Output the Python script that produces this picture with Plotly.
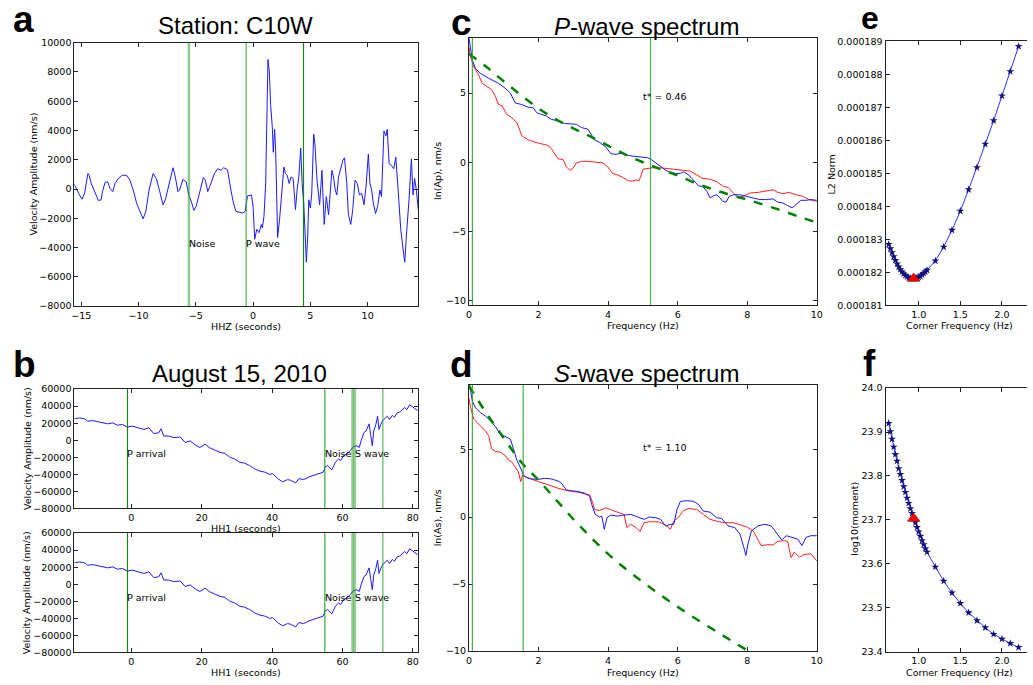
import plotly.graph_objects as go

# ---------------- data ----------------
# panel a : HHZ trace (seconds, nm/s)
a_t = [-15.64, -15.46, -15.23, -14.94, -14.71, -14.42, -14.31, -14.13, -13.79, -13.50,
       -13.27, -13.15, -12.92, -12.69, -12.49, -12.25, -12.05, -11.76, -11.42, -11.04,
       -10.75, -10.46, -10.17, -9.88, -9.60, -9.36, -9.08, -8.73, -8.44, -8.15,
       -7.86, -7.66, -7.37, -6.99, -6.79, -6.56, -6.42, -6.13, -5.84, -5.61,
       -5.35, -5.17, -4.97, -4.68, -4.34, -4.16, -3.96, -3.73, -3.38, -3.09,
       -2.80, -2.57, -2.23, -1.94, -1.71, -1.50, -1.21, -0.92, -0.69, -0.58,
       -0.49, -0.14, 0.00, 0.14, 0.32, 0.52, 0.72, 0.81, 0.95, 1.10,
       1.24, 1.30, 1.42, 1.53, 1.68, 1.76, 1.88, 1.97, 2.05, 2.14,
       2.31, 2.49, 2.69, 2.83, 2.98, 3.15, 3.32, 3.50, 3.70, 3.84,
       3.99, 4.16, 4.28, 4.42, 4.54, 4.65, 4.77, 4.86, 5.00, 5.12,
       5.29, 5.40, 5.58, 5.72, 5.81, 6.01, 6.10, 6.21, 6.39, 6.59,
       6.88, 7.02, 7.17, 7.31, 7.46, 7.66, 7.83, 7.98, 8.18, 8.32,
       8.53, 8.70, 8.90, 9.10, 9.28, 9.48, 9.68, 9.86, 10.06, 10.20,
       10.35, 10.49, 10.69, 10.87, 11.07, 11.21, 11.42, 11.59, 11.71, 11.88,
       12.08, 12.28, 12.46, 12.66, 12.89, 13.09, 13.24, 13.38, 13.53, 13.61,
       13.82, 13.96, 14.10, 14.25, 14.42]
a_v = [381, 45, -291, -695, -291, 1054, 942, 381, -291, -785,
       -740, -179, 448, 493, 45, -179, 381, 717, 942, 942,
       605, -67, -964, -1525, -2040, -1525, -67, 1054, 717, -179,
       -1076, -740, 269, 1457, 830, -179, -67, 650, 493, -404,
       -964, -1457, -1188, -179, 785, 605, -179, 269, 1054, 1390,
       1278, 1457, 1323, -67, -964, -1525, -1592, -1637, -1525, -964,
       -471, -404, -1188, -3430, -2758, -2982, -2421, -2646, -1861, 381,
       5762, 8856, 8004, 5762, 4193, 2511, 4080, 2623, -67, -3318,
       -2085, -67, 1502, 1054, 942, 381, 830, 717, -1412, -67,
       830, 2803, 381, -964, -3206, -5000, -3206, -740, -1300, -291,
       3744, 3072, 605, -740, -1076, 1278, -67, -2421, -516, -1749,
       1278, 830, -67, -404, 830, 1502, 1950, 2130, 381, -1749,
       -2421, -1412, 605, 381, -404, -291, -1076, 157, 2399, 381,
       -67, -964, -1681, -1188, -67, -516, 3968, 3632, 4080, 1726,
       1614, 1390, 2175, -67, -2758, -4103, -5000, -3206, -964, -740,
       2063, -404, 717, -67, -1412]
a_marks = [-5.6, -0.6, 4.4]
a_labels = [("Noise", -5.6, -3700), ("P wave", -0.6, -3700)]

# panel b : HH1 trace (both sub-panels)
b_t = [-16.2, -14.7, -13.3, -12.4, -11.0, -9.1, -6.75, -5.35, -3.94, -2.54,
       -1.13, 0.28, 1.69, 3.57, 4.98, 6.39, 7.8, 8.46, 9.2, 10.6,
       12.0, 13.9, 15.3, 16.7, 18.1, 19.5, 20.95, 22.4, 23.8, 25.2,
       26.6, 28.0, 29.4, 30.8, 32.2, 33.6, 35.0, 36.5, 37.9, 39.3,
       40.2, 41.6, 43.0, 44.4, 45.3, 46.7, 47.6, 49.0, 50.4, 51.8,
       53.2, 54.6, 55.0, 55.8, 57.0, 58.0, 58.9, 59.5, 60.3, 61.2,
       62.2, 63.1, 64.1, 64.8, 65.3, 66.1, 66.7, 67.2, 67.6, 68.0,
       68.5, 68.9, 69.5, 70.0, 70.4, 70.9, 71.5, 72.2, 72.8, 73.4,
       74.2, 74.8, 75.5, 76.3, 77.0, 77.7, 78.3, 79.1, 79.8, 80.5,
       81.4]
b_v = [25000, 26190, 25000, 22300, 23080, 21540, 19230, 20380, 17690, 18460,
       15380, 16540, 14620, 12690, 14620, 7690, 8850, 13460, 5000, 5000,
       3080, 3850, -2690, -770, -5380, -8460, -4620, -9230, -11540, -14230,
       -15380, -20000, -21920, -25770, -26920, -29620, -33460, -36150, -37310, -40000,
       -39230, -45000, -48850, -46150, -46920, -50000, -45000, -46150, -43080, -41150,
       -39230, -37310, -31540, -29620, -34620, -25770, -21920, -23850, -18080, -16150,
       -12310, -7690, -6540, -8460, -770, 8850, 10770, 16540, 19230, 6920,
       -6540, 10770, 18460, 28080, 12690, 18460, 23080, 26150, 28080, 24230,
       29230, 26920, 31920, 33080, 35770, 38460, 35770, 41540, 39620, 36920,
       34620]
b_marks = [-1.1, 55.0, 62.9, 63.5, 71.5]
b_labels = [("P arrival", -1.1, -15000), ("Noise", 55.0, -15000), ("S wave", 63.5, -15000)]

# panel c : P-wave spectrum
c_blue_f = [0, 0.05, 0.1, 0.19, 0.33, 0.57, 0.85, 1.04, 1.19, 1.33,
            1.52, 1.71, 1.85, 1.95, 2.09, 2.23, 2.37, 2.56, 2.75, 2.94,
            3.09, 3.23, 3.42, 3.51, 3.61, 3.75, 3.94, 4.08, 4.23, 4.37,
            4.56, 4.75, 4.94, 5.13, 5.22, 5.37, 5.51, 5.65, 5.79, 5.94,
            6.08, 6.17, 6.32, 6.46, 6.60, 6.72, 6.84, 6.93, 7.03, 7.12,
            7.22, 7.29, 7.39, 7.48, 7.60, 7.79, 7.98, 8.17, 8.36, 8.55,
            8.74, 8.88, 9.02, 9.16, 9.29, 9.40, 9.54, 9.69, 9.83, 10.0]
c_blue = [9.03, 8.2, 7.37, 6.78, 6.42, 6.07, 5.71, 5.36, 5.0, 4.29,
          4.17, 3.98, 3.93, 3.58, 3.46, 3.34, 3.10, 2.99, 2.80, 2.75,
          2.75, 2.51, 2.39, 2.04, 1.61, 1.45, 1.09, 0.62, 0.57, 0.66,
          0.50, 0.43, 0.38, 0.33, 0.24, -0.05, -0.33, -0.57, -0.73, -0.81,
          -0.81, -0.69, -0.92, -1.28, -1.71, -1.75, -2.11, -2.58, -2.42, -2.35,
          -2.58, -2.82, -2.89, -2.46, -2.35, -2.35, -2.46, -2.58, -2.70, -2.70,
          -2.65, -2.89, -2.94, -3.13, -3.29, -3.06, -2.75, -2.75, -2.70, -2.75]
c_red_f = [0, 0.05, 0.14, 0.28, 0.38, 0.52, 0.66, 0.76, 0.85, 0.95,
           1.09, 1.23, 1.38, 1.52, 1.71, 1.90, 2.09, 2.28, 2.37, 2.47,
           2.56, 2.71, 2.80, 2.90, 2.99, 3.09, 3.23, 3.42, 3.61, 3.85,
           3.99, 4.13, 4.27, 4.42, 4.56, 4.70, 4.80, 4.89, 5.01, 5.13,
           5.27, 5.51, 5.70, 5.89, 6.17, 6.36, 6.55, 6.70, 6.93, 7.12,
           7.31, 7.45, 7.60, 7.74, 7.88, 8.07, 8.31, 8.50, 8.74, 8.88,
           9.02, 9.21, 9.40, 9.59, 9.78, 10.0]
c_red = [8.32, 7.61, 6.90, 6.30, 5.71, 5.47, 5.24, 4.76, 4.17, 4.10,
         3.46, 3.22, 2.87, 1.92, 1.61, 1.45, 1.33, 1.21, 0.97, 0.62,
         0.26, 0.19, -0.33, -0.57, -0.45, -0.05, 0.07, 0.07, 0.0, -0.05,
         -0.33, -0.81, -0.92, -1.09, -1.33, -1.37, -1.28, -1.35, -0.50, -0.45,
         -0.40, -0.40, -0.45, -0.52, -0.62, -0.64, -0.92, -1.16, -1.23, -1.40,
         -1.75, -1.82, -2.23, -2.54, -2.46, -2.23, -2.18, -2.11, -1.99, -2.18,
         -2.27, -2.18, -2.35, -2.46, -2.70, -2.82]
c_fit_f = [0, 0.5, 1.0, 1.5, 2.0, 2.5, 3.0, 3.5, 4.0, 4.5, 5.0,
           5.5, 6.0, 6.5, 7.0, 7.5, 8.0, 8.5, 9.0, 9.5, 10.0]
c_fit = [7.85, 6.9, 5.85, 4.85, 3.9, 3.1, 2.45, 1.85, 1.2, 0.55, 0.0,
         -0.5, -0.95, -1.5, -1.95, -2.35, -2.7, -3.1, -3.5, -3.95, -4.36]
c_marks = [0.1, 5.22]
c_note = ("t* = 0.46", 5.0, 4.72)

# panel d : S-wave spectrum
d_blue_f = [0, 0.05, 0.1, 0.19, 0.33, 0.47, 0.62, 0.76, 0.90, 1.04,
            1.19, 1.28, 1.38, 1.47, 1.57, 1.66, 1.80, 2.0, 2.18, 2.37,
            2.56, 2.66, 2.80, 2.94, 3.13, 3.32, 3.47, 3.53, 3.63, 3.75,
            3.82, 3.89, 3.97, 4.08, 4.27, 4.46, 4.65, 4.84, 5.03, 5.18,
            5.37, 5.51, 5.65, 5.79, 5.89, 5.98, 6.08, 6.27, 6.46, 6.60,
            6.74, 6.93, 7.12, 7.26, 7.45, 7.64, 7.79, 7.90, 7.96, 8.02,
            8.12, 8.31, 8.50, 8.69, 8.88, 8.99, 9.12, 9.31, 9.45, 9.57,
            9.69, 9.83, 10.0]
d_blue = [9.86, 9.37, 8.64, 8.15, 7.78, 7.54, 7.17, 6.75, 6.19, 6.02,
          5.82, 5.09, 4.23, 3.74, 3.13, 2.94, 2.84, 2.81, 2.89, 2.84,
          2.69, 2.52, 2.03, 1.96, 1.91, 1.79, 1.54, 0.93, 0.20, 0.0,
          0.07, -0.91, -0.05, 0.15, 0.07, 0.15, 0.20, 0.02, -0.17, 0.0,
          -0.05, -0.17, -0.66, -0.54, -0.54, 0.56, 1.17, 1.22, 1.17, 0.93,
          0.44, 0.37, -0.05, -0.10, -0.66, -0.78, -1.27, -2.25, -2.86, -2.01,
          -1.03, -0.66, -0.54, -0.66, -1.27, -1.71, -1.39, -1.52, -1.64, -2.13,
          -1.52, -1.39, -1.39]
d_red_f = [0, 0.05, 0.14, 0.28, 0.47, 0.57, 0.65, 0.76, 0.90, 1.04,
           1.14, 1.23, 1.33, 1.42, 1.49, 1.54, 1.61, 1.80, 2.0, 2.28,
           2.56, 2.85, 3.13, 3.37, 3.47, 3.56, 3.61, 3.75, 3.94, 4.13,
           4.37, 4.46, 4.54, 4.65, 4.80, 4.92, 5.03, 5.22, 5.46, 5.65,
           5.79, 5.89, 6.03, 6.17, 6.32, 6.55, 6.74, 6.93, 7.17, 7.36,
           7.60, 7.79, 7.98, 8.17, 8.31, 8.40, 8.59, 8.74, 8.88, 9.07,
           9.16, 9.26, 9.35, 9.50, 9.64, 9.83, 10.0]
d_red = [8.88, 8.15, 7.29, 6.92, 6.44, 6.07, 5.09, 4.89, 4.84, 4.60,
         4.23, 4.11, 3.74, 3.38, 2.64, 3.13, 3.01, 2.81, 2.64, 2.40,
         2.15, 1.96, 1.86, 1.71, 1.66, 1.05, 0.56, 0.49, 0.69, 0.49,
         0.32, 0.20, -0.78, -0.54, -0.78, -1.08, -0.42, -0.34, -0.37, -0.59,
         -0.91, -0.29, 0.0, 0.49, 0.64, 0.56, 0.20, -0.17, -0.34, -0.42,
         -0.42, -0.59, -0.73, -1.03, -1.64, -2.13, -2.06, -2.08, -1.81, -1.76,
         -1.81, -3.03, -2.62, -2.99, -2.79, -2.74, -3.28]
d_fit_f = [0, 0.5, 1.0, 1.5, 2.0, 2.5, 3.0, 3.5, 4.0, 4.5, 5.0,
           5.5, 6.0, 6.5, 7.0, 7.5, 8.0]
d_fit = [9.8, 7.75, 5.9, 4.1, 2.75, 1.3, -0.15, -1.5, -2.75, -3.85, -4.85,
         -5.8, -6.7, -7.55, -8.35, -9.15, -9.95]
d_marks = [0.1, 1.56]
d_note = ("t* = 1.10", 5.0, 5.21)

# panels e, f : grid search over corner frequency
fc = [0.64, 0.66, 0.68, 0.70, 0.72, 0.74, 0.76, 0.78, 0.80, 0.82,
      0.84, 0.86, 0.88, 0.90, 0.92, 0.94, 0.96, 0.98, 1.00, 1.02,
      1.04, 1.06, 1.08, 1.10, 1.2, 1.3, 1.4, 1.5, 1.6, 1.7,
      1.8, 1.9, 2.0, 2.1, 2.2]
l2_norm = [1.8285e-4, 1.8272e-4, 1.8260e-4, 1.8248e-4, 1.8237e-4, 1.8226e-4, 1.8217e-4, 1.8209e-4, 1.8202e-4, 1.8196e-4,
           1.8191e-4, 1.8187e-4, 1.8184e-4, 1.8182e-4, 1.8181e-4, 1.8181e-4, 1.8182e-4, 1.8184e-4, 1.8186e-4, 1.8189e-4,
           1.8193e-4, 1.8197e-4, 1.8202e-4, 1.8207e-4, 1.8235e-4, 1.8277e-4, 1.8328e-4, 1.8386e-4, 1.8451e-4, 1.8518e-4,
           1.8589e-4, 1.8660e-4, 1.8735e-4, 1.8809e-4, 1.8885e-4]
log_moment = [23.920, 23.901, 23.884, 23.866, 23.849, 23.834, 23.817, 23.804, 23.790, 23.776,
              23.763, 23.750, 23.738, 23.726, 23.715, 23.703, 23.694, 23.683, 23.673, 23.663,
              23.653, 23.644, 23.635, 23.627, 23.593, 23.561, 23.534, 23.510, 23.489, 23.471,
              23.455, 23.440, 23.429, 23.419, 23.410]
best_fc = 0.94
best_l2 = 1.81815e-4
best_moment = 23.703

# ---------------- layout helpers ----------------
W, H = 1033, 685
def PX(x):
    return x / W
def PY(y):
    return 1 - y / H

TICKFONT = dict(family="DejaVu Sans", size=9.5, color="black")
BLUE = "#1a1aff"
RED = "#ff2020"

def axis(dom, **kw):
    d = dict(domain=dom, showline=True, linecolor="#222", linewidth=1, mirror="ticks",
             ticks="inside", ticklen=4, tickcolor="#222", tickwidth=1,
             showgrid=False, zeroline=False, tickfont=TICKFONT)
    d.update(kw)
    return d

fig = go.Figure()

# panel a
fig.add_trace(go.Scatter(x=a_t, y=a_v, mode="lines", line=dict(color=BLUE, width=1), xaxis="x", yaxis="y"))
# panel b
for xa, ya in (("x2", "y2"), ("x3", "y3")):
    fig.add_trace(go.Scatter(x=b_t, y=b_v, mode="lines", line=dict(color=BLUE, width=1), xaxis=xa, yaxis=ya))
# panel c
fig.add_trace(go.Scatter(x=c_red_f, y=c_red, mode="lines", line=dict(color=RED, width=1), xaxis="x4", yaxis="y4"))
fig.add_trace(go.Scatter(x=c_blue_f, y=c_blue, mode="lines", line=dict(color=BLUE, width=1), xaxis="x4", yaxis="y4"))
fig.add_trace(go.Scatter(x=c_fit_f, y=c_fit, mode="lines", line=dict(color="#008000", width=2.5, dash="dash", shape="spline"), xaxis="x4", yaxis="y4"))
# panel d
fig.add_trace(go.Scatter(x=d_red_f, y=d_red, mode="lines", line=dict(color=RED, width=1), xaxis="x5", yaxis="y5"))
fig.add_trace(go.Scatter(x=d_blue_f, y=d_blue, mode="lines", line=dict(color=BLUE, width=1), xaxis="x5", yaxis="y5"))
fig.add_trace(go.Scatter(x=d_fit_f, y=d_fit, mode="lines", line=dict(color="#008000", width=2.5, dash="dash", shape="spline"), xaxis="x5", yaxis="y5"))
# panel e, f
for ya, yv, yb, xa in (("y6", l2_norm, best_l2, "x6"), ("y7", log_moment, best_moment, "x7")):
    fig.add_trace(go.Scatter(x=fc, y=yv, mode="lines+markers", line=dict(color="#3030ff", width=1),
                             marker=dict(symbol="star", size=6, color="#12127a", line=dict(width=0)),
                             xaxis=xa, yaxis=ya))
    fig.add_trace(go.Scatter(x=[best_fc], y=[yb], mode="markers",
                             marker=dict(symbol="triangle-up", size=11, color="#ff0000", line=dict(width=0.5, color="#800000")),
                             xaxis=xa, yaxis=ya))

# vertical window markers
shapes = []
def vline(xref, yref, x, color, width):
    shapes.append(dict(type="line", xref=xref, yref=yref + " domain", x0=x, x1=x, y0=0, y1=1,
                       line=dict(color=color, width=width), layer="above"))

a_styles = [("rgba(40,160,40,0.55)", 2.5), ("rgba(40,160,40,0.75)", 1.3), ("rgba(0,120,0,0.9)", 1.2)]
for x, (col, w) in zip(a_marks, a_styles):
    vline("x", "y", x, col, w)
b_styles = [("rgba(0,120,0,0.9)", 1.2), ("rgba(40,160,40,0.85)", 1.3), ("rgba(40,160,40,0.5)", 2.8),
            ("rgba(40,160,40,0.5)", 2.8), ("rgba(40,160,40,0.7)", 1.3)]
for xa, ya in (("x2", "y2"), ("x3", "y3")):
    for x, (col, w) in zip(b_marks, b_styles):
        vline(xa, ya, x, col, w)
for x in c_marks:
    vline("x4", "y4", x, "rgba(40,160,40,0.85)", 1.2)
for x in d_marks:
    vline("x5", "y5", x, "rgba(40,160,40,0.85)", 1.2)

ann = []
def note(text, x, y, xref, yref, size=9.5, **kw):
    d = dict(text=text, x=x, y=y, xref=xref, yref=yref, showarrow=False,
             font=dict(family="DejaVu Sans", size=size, color="black"))
    d.update(kw)
    ann.append(d)

for txt, x, y in a_labels:
    note(txt, x, y, "x", "y", xanchor="left", yanchor="middle", xshift=-2)
for xa, ya in (("x2", "y2"), ("x3", "y3")):
    for txt, x, y in b_labels:
        note(txt, x, y, xa, ya, xanchor="left", yanchor="middle", xshift=-2)
note(c_note[0], c_note[1], c_note[2], "x4", "y4", xanchor="left", yanchor="middle", xshift=-2)
note(d_note[0], d_note[1], d_note[2], "x5", "y5", xanchor="left", yanchor="middle", xshift=-2)

# paper-positioned texts
def ptext(text, px, py, size, family="DejaVu Sans", angle=0, bold=False):
    t = "<b>%s</b>" % text if bold else text
    ann.append(dict(text=t, x=PX(px), y=PY(py), xref="paper", yref="paper", showarrow=False,
                    xanchor="center", yanchor="middle", textangle=angle, borderpad=0,
                    font=dict(family=family, size=size, color="black")))

# panel letters
for letter, px, py, sz in (("a", 21, 14, 37), ("b", 21.5, 364, 37), ("c", 462.5, 17, 37),
                           ("d", 462.5, 364, 37), ("e", 875, 12, 32), ("f", 874.5, 363, 37)):
    ptext(letter, px, py, sz, family="Liberation Sans", bold=True)
# titles
ptext("Station: C10W", 234.5, 19.5, 24, family="Liberation Sans")
ptext("August 15, 2010", 238.5, 373, 24, family="Liberation Sans")
ptext("<i>P</i>-wave spectrum", 649, 20.5, 24, family="Liberation Sans")
ptext("<i>S</i>-wave spectrum", 649, 373, 24, family="Liberation Sans")
# axis titles
ptext("Velocity Amplitude (nm/s)", 30.5, 171, 9.5, angle=-90)
ptext("HHZ (seconds)", 245.5, 325.5, 9.5)
ptext("Velocity Amplitude (nm/s)", 24.5, 450, 9.5, angle=-90)
ptext("HH1 (seconds)", 245.5, 531, 9.5)
ptext("Velocity Amplitude (nm/s)", 24.5, 596.5, 9.5, angle=-90)
ptext("HH1 (seconds)", 245.5, 677, 9.5)
ptext("ln(Ap), nm/s", 438.5, 168, 9.5, angle=-90)
ptext("Frequency (Hz)", 645.5, 325, 9.5)
ptext("ln(As), nm/s", 438.5, 520, 9.5, angle=-90)
ptext("Frequency (Hz)", 645.5, 677, 9.5)
ptext("L2 Norm", 835.5, 171, 9.5, angle=-90)
ptext("Corner Frequency (Hz)", 965, 325, 9.5)
ptext("log10(moment)", 859, 521.5, 9.5, angle=-90)
ptext("Corner Frequency (Hz)", 965, 677, 9.5)

fig.update_layout(
    width=W, height=H, margin=dict(l=0, r=0, t=0, b=0),
    paper_bgcolor="white", plot_bgcolor="white", showlegend=False,
    shapes=shapes, annotations=ann,
    xaxis=axis([PX(72), PX(418.7)], anchor="y", range=[-15.6, 14.4], tick0=-15, dtick=5),
    yaxis=axis([PY(305), PY(37.3)], anchor="x", range=[-8000, 10000], dtick=2000, tickformat="d"),
    xaxis2=axis([PX(72), PX(418.7)], anchor="y2", range=[-16.2, 81.5], tick0=0, dtick=20),
    yaxis2=axis([PY(510.7), PY(389.3)], anchor="x2", range=[-80000, 60000], dtick=20000, tickformat="d"),
    xaxis3=axis([PX(72), PX(418.7)], anchor="y3", range=[-16.2, 81.5], tick0=0, dtick=20),
    yaxis3=axis([PY(657), PY(535.7)], anchor="x3", range=[-80000, 60000], dtick=20000, tickformat="d"),
    xaxis4=axis([PX(470), PX(821)], anchor="y4", range=[0, 10], dtick=2),
    yaxis4=axis([PY(304), PY(32.3)], anchor="x4", range=[-10.33, 9.0], dtick=5),
    xaxis5=axis([PX(470), PX(821)], anchor="y5", range=[0, 10], dtick=2),
    yaxis5=axis([PY(655.7), PY(385)], anchor="x5", range=[-10.0, 9.86], dtick=5),
    xaxis6=axis([PX(890.3), 1.0], anchor="y6", range=[0.602, 2.301], tick0=0.5, dtick=0.5, tickformat=".1f"),
    yaxis6=axis([PY(304.3), PY(36)], anchor="x6", range=[0.000181, 0.000189], dtick=0.000001, tickformat=".6f", mirror=False),
    xaxis7=axis([PX(890.3), 1.0], anchor="y7", range=[0.602, 2.301], tick0=0.5, dtick=0.5, tickformat=".1f"),
    yaxis7=axis([PY(656.3), PY(388.3)], anchor="x7", range=[23.4, 24.0], dtick=0.1, tickformat=".1f", mirror=False),
)

fig.write_html("out.html")
